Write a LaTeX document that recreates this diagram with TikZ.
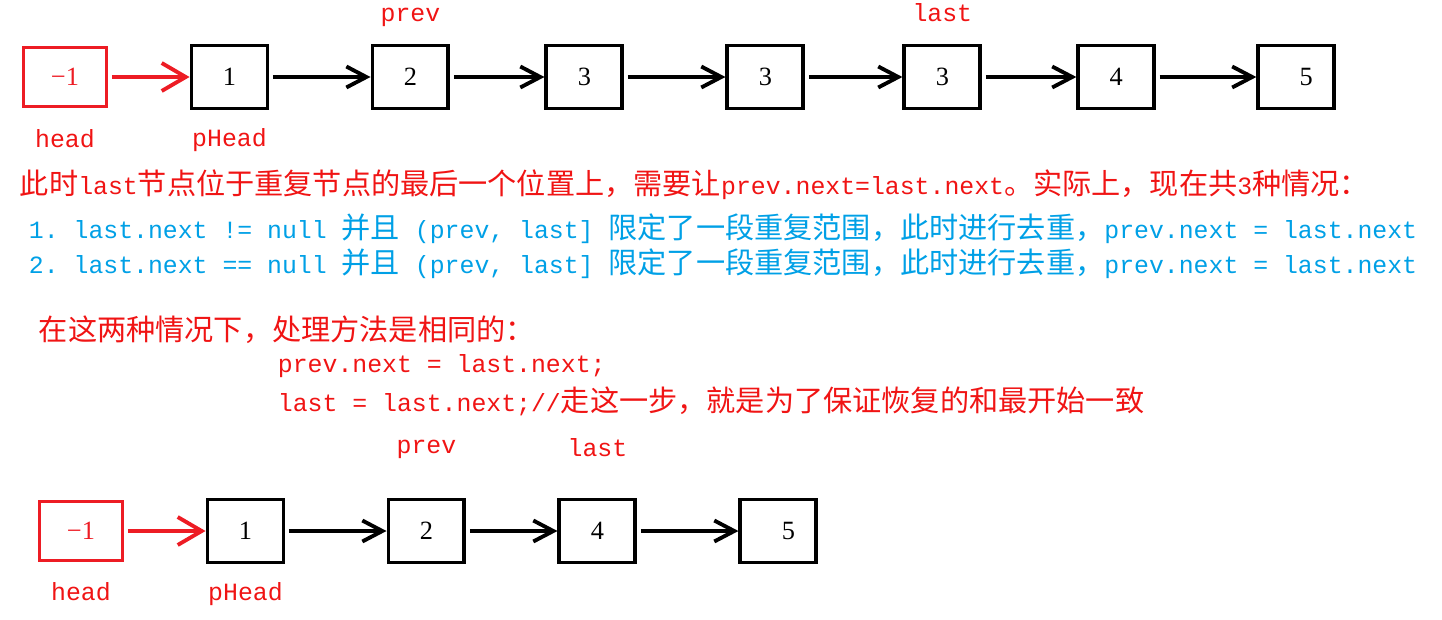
\documentclass[tikz,border=0pt]{standalone}
\usepackage{fontspec}
\usepackage{xcolor}
\usetikzlibrary{arrows.meta,positioning}
\newfontfamily\zhfont{Noto Sans CJK SC}
\newfontfamily\enfont[Scale=0.851]{Liberation Mono}
\newfontfamily\numfont{Liberation Serif}
\newcommand\zh[1]{{\zhfont #1}}
\newcommand\en[1]{{\enfont #1}}
\definecolor{boxred}{RGB}{237,28,36}
\definecolor{txtred}{RGB}{240,20,20}
\definecolor{txtblue}{RGB}{0,160,230}
\frenchspacing

\begin{document}
\begin{tikzpicture}[x=0.02cm,y=-0.02cm,line width=2.2pt,node distance=3.56cm,
  >={Straight Barb[length=0.4cm,width=0.42cm]},
  main node/.style={draw,rectangle,minimum width=1.52cm,minimum height=1.26cm,font=\numfont\fontsize{15}{18}\selectfont},
  head node/.style={main node,draw=boxred,text=boxred,minimum width=1.66cm,minimum height=1.18cm},
  tag/.style={text=txtred,text height=10pt,text depth=3pt,font=\fontsize{16.6}{20}\selectfont\enfont},
  line/.style={anchor=west,inner sep=0pt,font=\fontsize{16.6}{20}\selectfont},
  red arrow/.style={-{Straight Barb[length=0.48cm,width=0.56cm]},draw=boxred,shorten <=2pt},
  black arrow/.style={->,shorten <=2pt}]

    \useasboundingbox (0,0) rectangle (1442,619);

    % list before removing
    \node[head node] (h) at (65,77) {−1};
    \node[main node] (t1) [right of=h, node distance=3.29cm] {1};
    \node[main node] (t2) [right of=t1, node distance=3.62cm] {2};
    \node[main node] (t3) [right of=t2, node distance=3.48cm] {3};
    \node[main node] (t4) [right of=t3, node distance=3.62cm] {3};
    \node[main node] (t5) [right of=t4, node distance=3.54cm] {3};
    \node[main node] (t6) [right of=t5, node distance=3.48cm] {4};
    \node[main node] (t7) [right of=t6, node distance=3.6cm] {\hspace*{0.4cm}5};

    \node[tag] (th) [below of=h, node distance=1.28cm] {head};
    \node[tag] (tp) [below of=t1, node distance=1.26cm] {pHead};
    \node[tag] (tprev) [above of=t2, node distance=1.24cm] {prev};
    \node[tag] (tlast) [above of=t5, node distance=1.24cm] {last};

    \draw[red arrow] (h) -- (t1);
    \foreach \a/\b in {t1/t2,t2/t3,t3/t4,t4/t5,t5/t6,t6/t7}
        \draw[black arrow] (\a) -- (\b);

    % text
    \node[line,text=txtred] (s1) at (18,185) {\zh{此时}\en{last}\zh{节点位于重复节点的最后一个位置上，需要让}\en{prev.next=last.next}\zh{。实际上，现在共}\en{3}\zh{种情况：}};
    \node[line,text=txtblue] (s2) at (27,229) {\en{1. last.next != null }\zh{并且}\en{ (prev, last] }\zh{限定了一段重复范围，此时进行去重，}\en{prev.next = last.next}};
    \node[line,text=txtblue] (s3) at (27,264) {\en{2. last.next == null }\zh{并且}\en{ (prev, last] }\zh{限定了一段重复范围，此时进行去重，}\en{prev.next = last.next}};
    \node[line,text=txtred] (s4) at (37,330) {\zh{在这两种情况下，处理方法是相同的：}};
    \node[line,text=txtred] (s5) at (276,366) {\en{prev.next = last.next;}};
    \node[line,text=txtred] (s6) at (276,401) {\en{last = last.next;//}\zh{走这一步，就是为了保证恢复的和最开始一致}};

    % list after removing
    \node[head node] (g) at (81,531) {−1};
    \node[main node] (b1) [right of=g, node distance=3.29cm] {1};
    \node[main node] (b2) [right of=b1, node distance=3.62cm] {2};
    \node[main node] (b3) [right of=b2, node distance=3.42cm] {4};
    \node[main node] (b4) [right of=b3, node distance=3.62cm] {\hspace*{0.4cm}5};

    \node[tag] (bh) [below of=g, node distance=1.26cm] {head};
    \node[tag] (bp) [below of=b1, node distance=1.26cm] {pHead};
    \node[tag] (bprev) [above of=b2, node distance=1.68cm] {prev};
    \node[tag] (blast) [above of=b3, node distance=1.62cm] {last};

    \draw[red arrow] (g) -- (b1);
    \foreach \a/\b in {b1/b2,b2/b3,b3/b4}
        \draw[black arrow] (\a) -- (\b);

\end{tikzpicture}
\end{document}
